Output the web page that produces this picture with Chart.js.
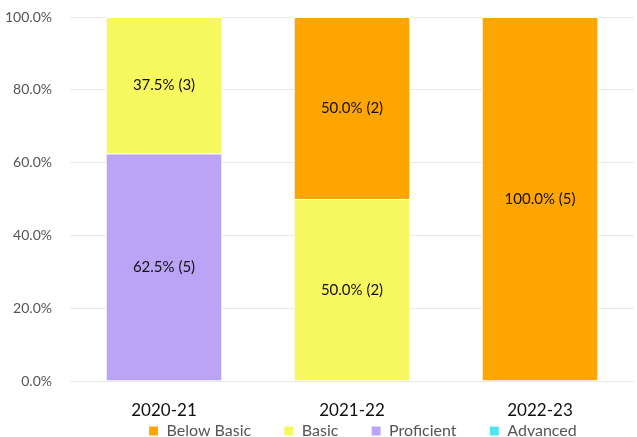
<!DOCTYPE html>
<html>
<head>
<meta charset="utf-8">
<script src="https://cdn.jsdelivr.net/npm/chart.js@4/dist/chart.umd.min.js"></script>
<style>
    html, body { margin: 0; padding: 0; background: #fff; }
    #wrap { width: 637px; height: 437px; }
</style>
</head>
<body>
<div id="wrap"><canvas id="chart"></canvas></div>
<script>
const years = ['2020-21', '2021-22', '2022-23'];
const belowBasic = [0, 50.0, 100.0];
const basic = [37.5, 50.0, 0];
const proficient = [62.5, 0, 0];
const advanced = [0, 0, 0];
const belowBasicN = [0, 2, 5];
const basicN = [3, 2, 0];
const proficientN = [5, 0, 0];
const advancedN = [0, 0, 0];

Chart.defaults.font.family = 'Lato';

// draws "62.5% (5)" in the middle of each segment
const segmentLabels = {
    id: 'segmentLabels',
    afterDatasetsDraw(chart) {
        const ctx = chart.ctx;
        ctx.save();
        ctx.font = '15px Lato';
        ctx.fillStyle = '#111';
        ctx.textAlign = 'center';
        ctx.textBaseline = 'middle';
        chart.data.datasets.forEach((ds, di) => {
            const meta = chart.getDatasetMeta(di);
            meta.data.forEach((bar, i) => {
                const v = ds.data[i];
                if (!v) return;
                const mid = (bar.y + bar.base) / 2;
                ctx.fillText(v.toFixed(1) + '% (' + ds.counts[i] + ')', bar.x, mid);
            });
        });
        ctx.restore();
    }
};

// extra room after each legend entry (the last one pushes the row left)
const legendGap = '       ';
const legendTail = '      ';

new Chart(document.getElementById('chart'), {
    type: 'bar',
    data: {
        labels: years,
        datasets: [
            {label: 'Advanced', data: advanced, counts: advancedN, backgroundColor: '#4fe3ee'},
            {label: 'Proficient', data: proficient, counts: proficientN, backgroundColor: '#bba4f5'},
            {label: 'Basic', data: basic, counts: basicN, backgroundColor: '#f7f760'},
            {label: 'Below Basic', data: belowBasic, counts: belowBasicN, backgroundColor: '#ffa500'},
        ]
    },
    options: {
        responsive: true,
        maintainAspectRatio: false,
        animation: false,
        datasets: {
            bar: {
                borderColor: '#ffffff',
                borderWidth: 1,
                barPercentage: 0.62,
                categoryPercentage: 1
            }
        },
        layout: {padding: {top: 17, right: 3, left: 0, bottom: -12}},
        plugins: {
            legend: {
                position: 'bottom',
                fullSize: false,
                align: 'end',
                reverse: true,
                labels: {
                    boxWidth: 10,
                    boxHeight: 10,
                    color: '#555',
                    font: {size: 16},
                    padding: 4,
                    generateLabels(chart) {
                        const items = Chart.defaults.plugins.legend.labels.generateLabels(chart);
                        items.forEach(it => {
                            it.text = it.text + legendGap + (it.datasetIndex === 0 ? legendTail : '');
                        });
                        return items;
                    }
                }
            },
            tooltip: {enabled: false}
        },
        scales: {
            x: {
                stacked: true,
                grid: {display: false},
                border: {display: false},
                ticks: {color: '#111', font: {size: 17}, padding: 11},
                afterFit(scale) { scale.height = 38; }
            },
            y: {
                stacked: true,
                min: 0,
                max: 100,
                border: {display: false},
                grid: {color: '#e9e9e9', drawTicks: false},
                ticks: {
                    stepSize: 20,
                    color: '#555',
                    font: {size: 14},
                    padding: 18,
                    callback: v => v.toFixed(1) + '%'
                },
                afterFit(scale) {
                    scale.width = 70;
                    scale.paddingTop = 0;
                    scale.paddingBottom = 0;
                }
            }
        }
    },
    plugins: [segmentLabels]
});
</script>
</body>
</html>
